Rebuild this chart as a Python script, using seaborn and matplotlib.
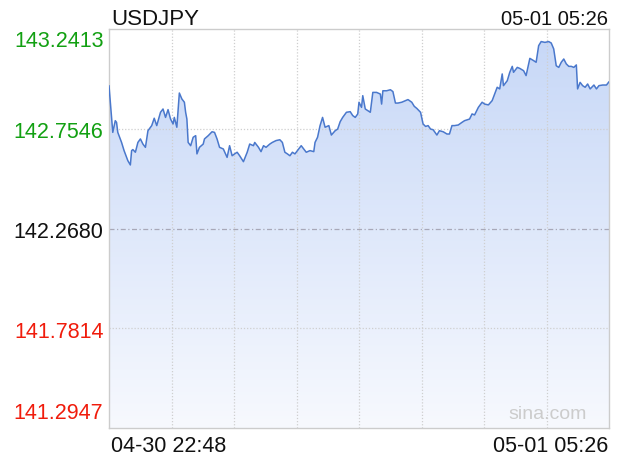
import numpy as np
import pandas as pd
import seaborn as sns
import matplotlib.pyplot as plt
import matplotlib.transforms as mtransforms
from matplotlib.colors import LinearSegmentedColormap

# chart texts
symbol = "USDJPY"
stamp = "05-01 05:26"
start_label = "04-30 22:48"
end_label = "05-01 05:26"
watermark = "sina.com"

# minutes after 04-30 22:48
minutes = [0, 3, 5, 6, 7, 10, 12, 13, 15, 17, 18, 19, 21, 23, 25, 27, 29, 31, 34, 36,
           38, 41, 43, 45, 47, 49, 51, 52, 54, 56, 58, 60, 61, 62, 63, 65, 67, 69, 70, 72,
           75, 76, 79, 82, 84, 86, 88, 91, 94, 96, 98, 100, 102, 104, 107, 110, 112, 115,
           116, 119, 121, 123, 125, 128, 130, 133, 136, 138, 140, 142, 144, 146, 148, 151,
           153, 155, 157, 160, 163, 164, 166, 168, 170, 172, 175, 177, 180, 182, 184, 186,
           189, 192, 194, 196, 198, 199, 201, 202, 204, 206, 208, 210, 213, 216, 217, 218,
           221, 224, 226, 228, 230, 233, 236, 238, 241, 243, 245, 248, 250, 252, 254, 256,
           258, 261, 263, 266, 269, 271, 273, 275, 278, 281, 283, 287, 289, 291, 294, 297,
           299, 302, 305, 306, 309, 311, 313, 314, 317, 319, 321, 322, 325, 327, 330, 332,
           335, 338, 340, 342, 344, 347, 350, 352, 354, 356, 358, 360, 362, 364, 366, 368,
           370, 372, 373, 375, 377, 379, 381, 383, 386, 388, 390, 393, 396, 398]
prices = [142.965, 142.737, 142.794, 142.786, 142.737, 142.688, 142.648, 142.632, 142.599,
          142.578, 142.648, 142.653, 142.640, 142.688, 142.705, 142.680, 142.664, 142.745,
          142.770, 142.806, 142.770, 142.835, 142.851, 142.810, 142.848, 142.802, 142.778,
          142.810, 142.762, 142.929, 142.900, 142.884, 142.835, 142.802, 142.688, 142.672,
          142.713, 142.721, 142.632, 142.664, 142.680, 142.705, 142.721, 142.740, 142.737,
          142.705, 142.664, 142.656, 142.615, 142.672, 142.623, 142.632, 142.640, 142.623,
          142.594, 142.640, 142.680, 142.672, 142.688, 142.664, 142.643, 142.672, 142.664,
          142.680, 142.688, 142.697, 142.701, 142.688, 142.640, 142.632, 142.623, 142.640,
          142.632, 142.656, 142.672, 142.656, 142.640, 142.648, 142.643, 142.688, 142.713,
          142.770, 142.810, 142.762, 142.770, 142.724, 142.745, 142.753, 142.789, 142.810,
          142.835, 142.838, 142.819, 142.810, 142.827, 142.884, 142.859, 142.916, 142.851,
          142.843, 142.835, 142.932, 142.932, 142.924, 142.875, 142.940, 142.940, 142.945,
          142.936, 142.880, 142.880, 142.884, 142.892, 142.897, 142.884, 142.864, 142.854,
          142.835, 142.778, 142.766, 142.770, 142.753, 142.750, 142.724, 142.745, 142.740,
          142.729, 142.729, 142.770, 142.770, 142.773, 142.786, 142.794, 142.802, 142.827,
          142.822, 142.859, 142.884, 142.875, 142.871, 142.892, 142.908, 142.957, 142.949,
          143.022, 142.965, 142.989, 143.030, 143.059, 143.030, 143.054, 143.049, 143.038,
          143.014, 143.098, 143.087, 143.079, 143.160, 143.180, 143.176, 143.180, 143.173,
          143.144, 143.062, 143.054, 143.079, 143.095, 143.071, 143.059, 143.059, 143.054,
          143.066, 142.949, 142.981, 142.965, 142.957, 142.973, 142.949, 142.968, 142.949,
          142.965, 142.968, 142.968, 142.984]

# price levels on the left
levels = [143.2413, 142.7546, 142.2680, 141.7814, 141.2947]
prev_close = 142.2680
span = 398

df = pd.DataFrame({"minute": minutes, "price": prices})

sns.set_theme(style="white")
plt.rcParams["font.family"] = ["Liberation Sans", "DejaVu Sans"]

fig = plt.figure(figsize=(6.2, 4.6), dpi=100)
ax = fig.add_axes([109 / 620, 31 / 460, 500 / 620, 399 / 460])

ymin, ymax = min(levels), max(levels)
ax.set_xlim(0, span)
ax.set_ylim(ymin, ymax)

# gradient fill under the line
cmap = LinearSegmentedColormap.from_list("fade", ["#c6d7f7", "#f7f9fe"])
grad = np.linspace(0, 1, 256).reshape(-1, 1)
img = ax.imshow(grad, cmap=cmap, aspect="auto", extent=(0, span, ymin, ymax),
                origin="upper", zorder=1)
poly = ax.fill_between(df["minute"], df["price"], ymin, color="none", lw=0)
img.set_clip_path(poly.get_paths()[0], transform=ax.transData)

sns.lineplot(data=df, x="minute", y="price", ax=ax, color="#4a78cc", lw=1.1, zorder=3)

# grid
for k in range(1, 8):
    ax.axvline(span * k / 8, color="#cfcfcf", lw=0.9, ls=(0, (1, 1.5)), zorder=2)
for lv in levels[1:-1]:
    if lv == prev_close:
        ax.axhline(lv, color="#a8a8b8", lw=0.9, ls=(0, (4, 2, 1, 2)), zorder=2)
    else:
        ax.axhline(lv, color="#cfcfcf", lw=0.9, ls=(0, (1, 1.5)), zorder=2)

for s in ax.spines.values():
    s.set_color("#cccccc")
    s.set_linewidth(1)
ax.set_xticks([])
ax.set_yticks([])
ax.set_xlabel("")
ax.set_ylabel("")

# level labels
trans = mtransforms.blended_transform_factory(ax.transAxes, ax.transData)
for i, lv in enumerate(levels):
    if lv > prev_close:
        col = "#12a012"
    elif lv < prev_close:
        col = "#f01c0c"
    else:
        col = "#111111"
    if i == 0:
        dy = -12.5
    elif i == len(levels) - 1:
        dy = 7
    else:
        dy = -6
    t = mtransforms.offset_copy(trans, fig=fig, x=-4, y=dy, units="points")
    ax.text(0, lv, f"{lv:.4f}", transform=t, ha="right", va="baseline",
            color=col, fontsize=15.5)

fig.text(111 / 620, 1 - 25 / 460, symbol, fontsize=16, color="#111111",
         ha="left", va="baseline")
fig.text(608 / 620, 1 - 25 / 460, stamp, fontsize=14.5, color="#111111",
         ha="right", va="baseline")
fig.text(111 / 620, 1 - 452 / 460, start_label, fontsize=15.5, color="#111111",
         ha="left", va="baseline")
fig.text(608 / 620, 1 - 452 / 460, end_label, fontsize=15.5, color="#111111",
         ha="right", va="baseline")
fig.text(587 / 620, 1 - 419 / 460, watermark, fontsize=14, color="#cccccc",
         ha="right", va="baseline")

fig.savefig("out.png", dpi=100)
